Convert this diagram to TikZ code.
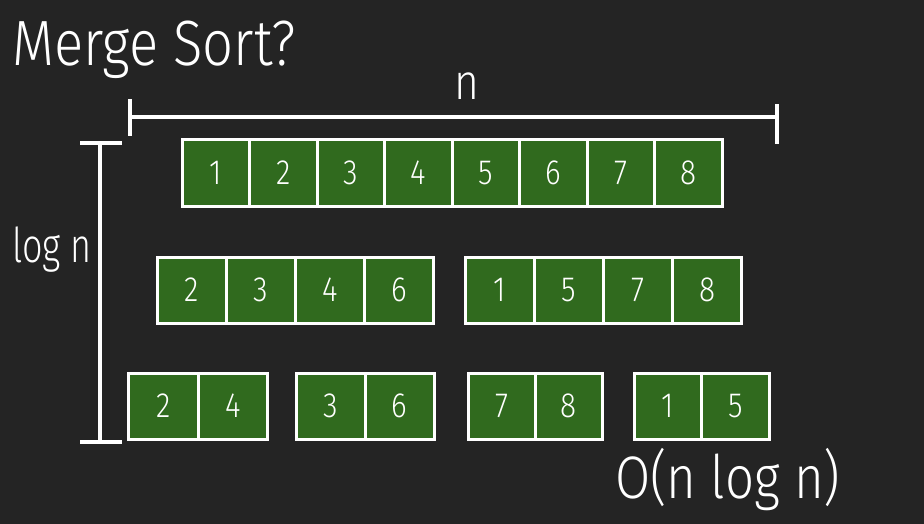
\documentclass[tikz,border=0pt]{standalone}
\usepackage{fontspec}
\setmainfont{Fira Sans}[UprightFont=* Light, FakeStretch=0.85]
\newfontfamily\narrowchalk{Fira Sans}[UprightFont=* Light, FakeStretch=0.75]
\usetikzlibrary{positioning}
\definecolor{board}{HTML}{242424}
\definecolor{cellgreen}{HTML}{306A1E}

\begin{document}
\begin{tikzpicture}[
                    x=1pt, y=-1pt,
                    node distance=0pt,
                    cell/.style={rectangle, draw=white, fill=cellgreen, line width=3pt, outer sep=0pt, minimum width=68pt, minimum height=66pt, text=white, font=\fontsize{35}{35}\selectfont},
                    chalk/.style={white, line width=3.5pt},
                    scrawl/.style={text=white, inner sep=0pt}
                ]
                \fill[board] (0,0) rectangle (924,524);
                \useasboundingbox (0,0) rectangle (924,524);

                \node[scrawl, anchor=base west, font=\fontsize{64}{64}\selectfont] (title) at (12,66) {Merge Sort?};

                % width of the array
                \coordinate (nl) at (130,117);
                \coordinate (nr) at (777,117);
                \draw[chalk] (nl) -- (nr);
                \draw[chalk] ([yshift=-19pt]nl) -- ([yshift=18pt]nl);
                \draw[chalk] ([yshift=-27pt]nr) -- ([yshift=13pt]nr);
                \node[scrawl, anchor=base, font=\fontsize{50}{50}\selectfont] (width) at (467,100) {n};

                % depth of the splits
                \coordinate (dt) at (100,143);
                \coordinate (db) at (100,442);
                \draw[chalk] (dt) -- (db);
                \draw[chalk] ([xshift=-20pt]dt) -- ([xshift=22pt]dt);
                \draw[chalk] ([xshift=-20pt]db) -- ([xshift=22pt]db);
                \node[scrawl, anchor=base west, font=\narrowchalk\fontsize{48}{48}\selectfont] (depth) at (12,262) {log n};

                % level 1
                \node[cell, minimum width=67.5pt] (a1) at (215.75,173) {1};
                \node[cell, minimum width=67.5pt, right=of a1] (a2) {2};
                \node[cell, minimum width=67.5pt, right=of a2] (a3) {3};
                \node[cell, minimum width=67.5pt, right=of a3] (a4) {4};
                \node[cell, minimum width=67.5pt, right=of a4] (a5) {5};
                \node[cell, minimum width=67.5pt, right=of a5] (a6) {6};
                \node[cell, minimum width=67.5pt, right=of a6] (a7) {7};
                \node[cell, minimum width=67.5pt, right=of a7] (a8) {8};

                % level 2
                \node[cell, minimum width=69pt] (b1) at (192,290) {2};
                \node[cell, minimum width=69pt, right=of b1] (b2) {3};
                \node[cell, minimum width=69pt, right=of b2] (b3) {4};
                \node[cell, minimum width=69pt, right=of b3] (b4) {6};
                \node[cell, minimum width=69pt] (b5) at (500,290) {1};
                \node[cell, minimum width=69pt, right=of b5] (b6) {5};
                \node[cell, minimum width=69pt, right=of b6] (b7) {7};
                \node[cell, minimum width=69pt, right=of b7] (b8) {8};

                % level 3
                \node[cell, minimum width=69.5pt] (c1) at (163.5,406) {2};
                \node[cell, minimum width=69.5pt, right=of c1] (c2) {4};
                \node[cell, minimum width=69pt] (c3) at (330.5,406) {3};
                \node[cell, minimum width=69pt, right=of c3] (c4) {6};
                \node[cell, minimum width=67pt] (c5) at (501.5,406) {7};
                \node[cell, minimum width=67pt, right=of c5] (c6) {8};
                \node[cell, minimum width=67.5pt] (c7) at (668,406) {1};
                \node[cell, minimum width=67.5pt, right=of c7] (c8) {5};

                \node[scrawl, anchor=base west, font=\fontsize{60}{60}\selectfont] (cost) at (615,498) {O(n log n)};
                \end{tikzpicture}
\end{document}
